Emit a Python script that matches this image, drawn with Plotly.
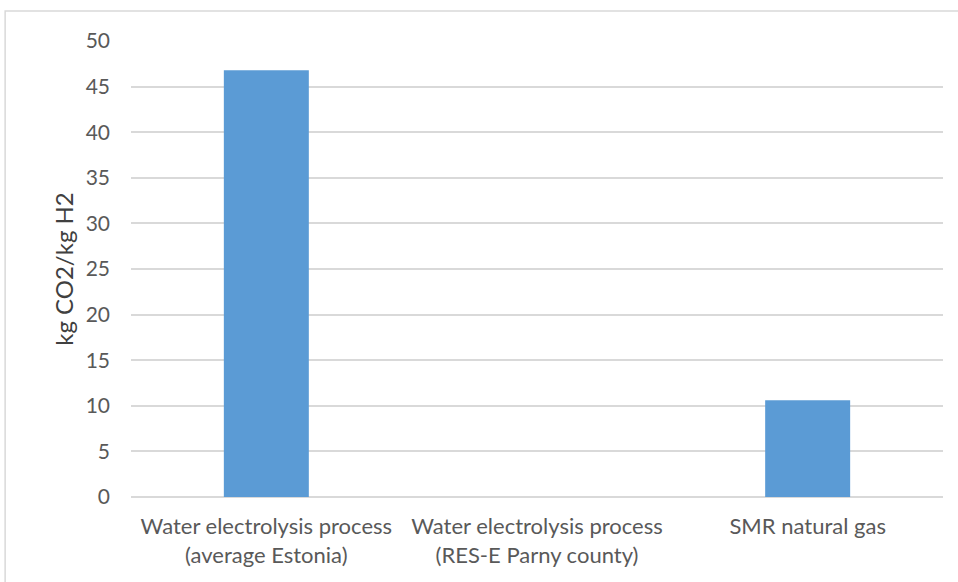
import plotly.graph_objects as go

categories = [
    "Water electrolysis process<br>(average Estonia)",
    "Water electrolysis process<br>(RES-E Parny county)",
    "SMR natural gas",
]
emissions = [46.8, 0.0, 10.6]
y_ticks = [0, 5, 10, 15, 20, 25, 30, 35, 40, 45, 50]

font_family = "Lato, 'Open Sans', sans-serif"
text_gray = "#595959"
grid_gray = "#D9D9D9"

fig = go.Figure(
    go.Bar(
        x=categories,
        y=emissions,
        marker=dict(color="#5B9BD5", line=dict(width=0)),
        hoverinfo="x+y",
    )
)

fig.update_layout(
    width=958,
    height=582,
    margin=dict(l=131, r=15, t=41, b=85),
    paper_bgcolor="white",
    plot_bgcolor="white",
    bargap=0.686,
    showlegend=False,
    font=dict(family=font_family, color=text_gray, size=21),
    shapes=[
        dict(
            type="rect",
            xref="paper",
            yref="paper",
            x0=-0.155,
            x1=1.05,
            y0=-0.3,
            y1=1.066,
            line=dict(color="#D9D9D9", width=1.5),
            fillcolor="rgba(0,0,0,0)",
            layer="below",
        )
    ],
)

fig.update_yaxes(
    range=[0, 50],
    tickvals=y_ticks,
    showgrid=True,
    gridcolor=grid_gray,
    gridwidth=1.5,
    zeroline=True,
    zerolinecolor=grid_gray,
    zerolinewidth=1.5,
    showline=False,
    ticks="",
    ticklabelstandoff=20,
    tickfont=dict(size=21, color=text_gray),
    title=dict(text="kg CO2/kg H2", font=dict(size=24, color="#404040"), standoff=5),
)

fig.update_xaxes(
    showgrid=False,
    showline=False,
    ticks="",
    tickfont=dict(size=22, color=text_gray),
    ticklabelstandoff=14,
)

fig.write_html("out.html")
